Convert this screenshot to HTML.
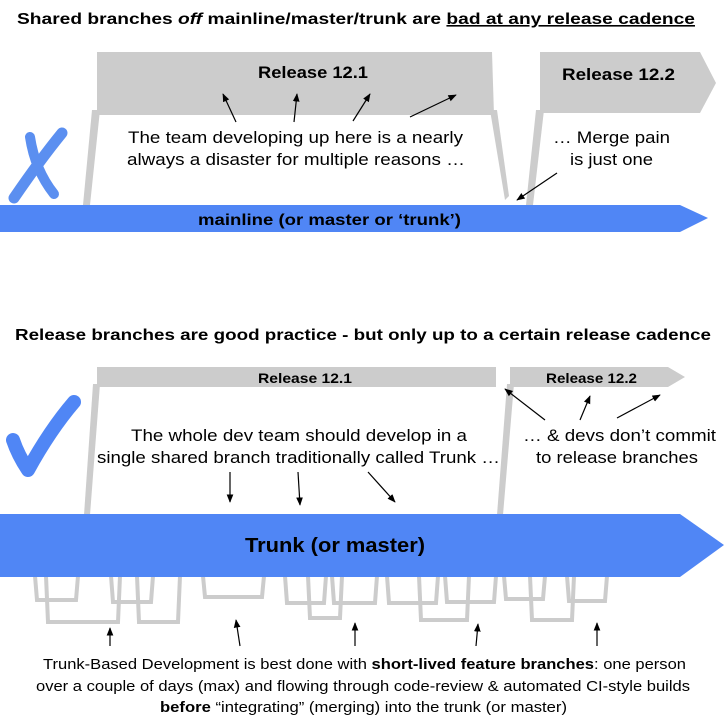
<!DOCTYPE html>
<html><head><meta charset="utf-8"><style>
html,body{margin:0;padding:0;background:#fff}
svg{display:block}
text{font-family:"Liberation Sans",sans-serif;fill:#000}
.b{font-weight:bold}
</style></head><body>
<svg width="726" height="722" viewBox="0 0 726 722" xmlns="http://www.w3.org/2000/svg">
<defs><marker id="a" viewBox="0 0 10 10" refX="9" refY="5" markerWidth="7" markerHeight="7" orient="auto"><path d="M0,1 L10,5 L0,9 z" fill="#000"/></marker></defs>

<text x="17" y="24" class="b" font-size="16" textLength="678" lengthAdjust="spacingAndGlyphs">Shared branches <tspan font-style="italic">off</tspan> mainline/master/trunk are <tspan text-decoration="underline">bad at any release cadence</tspan></text>

<polygon points="97,52 492,52 494,115 97,115" fill="#cccccc"/>
<polygon points="92,110 100,110 90,205 83,205" fill="#cccccc"/>
<polygon points="490,110 497,110 509,196 505,200" fill="#cccccc"/>
<polygon points="540,52 700,52 716,83 700,113 540,113" fill="#cccccc"/>
<polygon points="536,110 544,110 533,205 526,205" fill="#cccccc"/>
<text x="258" y="78" class="b" font-size="17" textLength="110" lengthAdjust="spacingAndGlyphs">Release 12.1</text>
<text x="562" y="80" class="b" font-size="17" textLength="113" lengthAdjust="spacingAndGlyphs">Release 12.2</text>

<!-- X -->
<path d="M62,133 Q40,160 14,198" stroke="#5b8ff0" stroke-width="11" fill="none" stroke-linecap="round"/>
<path d="M30,137 Q35,170 54,194" stroke="#5b8ff0" stroke-width="10" fill="none" stroke-linecap="round"/>

<polygon points="0,205 680,205 708,218 680,232 0,232" fill="#5086f5"/>
<text x="198" y="225" class="b" font-size="16" textLength="263" lengthAdjust="spacingAndGlyphs">mainline (or master or ‘trunk’)</text>

<text x="128" y="143" font-size="17" textLength="335" lengthAdjust="spacingAndGlyphs">The team developing up here is a nearly</text>
<text x="127" y="165" font-size="17" textLength="338" lengthAdjust="spacingAndGlyphs">always a disaster for multiple reasons …</text>
<text x="553" y="143" font-size="17" textLength="117" lengthAdjust="spacingAndGlyphs">… Merge pain</text>
<text x="570" y="165" font-size="17" textLength="83" lengthAdjust="spacingAndGlyphs">is just one</text>
<g stroke="#000" stroke-width="1.2" marker-end="url(#a)">
<line x1="236" y1="122" x2="223" y2="94"/>
<line x1="294" y1="122" x2="297" y2="94"/>
<line x1="353" y1="121" x2="370" y2="94"/>
<line x1="410" y1="117" x2="456" y2="95"/>
<line x1="557" y1="173" x2="517" y2="200"/>
</g>

<text x="15" y="340" class="b" font-size="16" textLength="696" lengthAdjust="spacingAndGlyphs">Release branches are good practice - but only up to a certain release cadence</text>

<polygon points="97,367 496,367 496,387 97,387" fill="#cccccc"/>
<polygon points="93,384 100,384 90,515 84,515" fill="#cccccc"/>
<polygon points="510,367 668,367 685,377 668,387 510,387" fill="#cccccc"/>
<polygon points="507,384 514,384 503,515 497,515" fill="#cccccc"/>
<text x="258" y="383" class="b" font-size="14" textLength="94" lengthAdjust="spacingAndGlyphs">Release 12.1</text>
<text x="546" y="383" class="b" font-size="14" textLength="91" lengthAdjust="spacingAndGlyphs">Release 12.2</text>

<path d="M13,440 Q18,455 28,470 Q50,430 74,402" stroke="#5086f5" stroke-width="14" fill="none" stroke-linecap="round" stroke-linejoin="round"/>

<text x="131" y="441" font-size="17" textLength="336" lengthAdjust="spacingAndGlyphs">The whole dev team should develop in a</text>
<text x="97" y="463" font-size="17" textLength="403" lengthAdjust="spacingAndGlyphs">single shared branch traditionally called Trunk …</text>
<text x="523" y="441" font-size="17" textLength="193" lengthAdjust="spacingAndGlyphs">… &amp; devs don’t commit</text>
<text x="536" y="463" font-size="17" textLength="162" lengthAdjust="spacingAndGlyphs">to release branches</text>
<g stroke="#000" stroke-width="1.2" marker-end="url(#a)">
<line x1="230" y1="472" x2="230" y2="502"/>
<line x1="298" y1="472" x2="300" y2="505"/>
<line x1="368" y1="472" x2="395" y2="502"/>
<line x1="545" y1="420" x2="505" y2="389"/>
<line x1="580" y1="420" x2="590" y2="396"/>
<line x1="617" y1="418" x2="660" y2="395"/>
<line x1="110" y1="646" x2="110" y2="628"/>
<line x1="240" y1="646" x2="236" y2="620"/>
<line x1="355" y1="646" x2="355" y2="623"/>
<line x1="476" y1="646" x2="478" y2="624"/>
<line x1="597" y1="646" x2="597" y2="623"/>
</g>

<g stroke="#cccccc" stroke-width="4" fill="none">
<path d="M35,576 L37,600 L76,600 L78,576"/>
<path d="M46,576 L48,622 L118,622 L120,576"/>
<path d="M111,576 L113,602 L151,602 L153,576"/>
<path d="M137,576 L139,622 L178,622 L180,576"/>
<path d="M203,576 L205,597 L262,597 L264,576"/>
<path d="M285,576 L287,603 L324,603 L326,576"/>
<path d="M308,576 L310,618 L340,618 L342,576"/>
<path d="M332,576 L334,603 L375,603 L377,576"/>
<path d="M387,576 L389,603 L436,603 L438,576"/>
<path d="M419,576 L421,620 L467,620 L469,576"/>
<path d="M445,576 L447,602 L494,602 L496,576"/>
<path d="M504,576 L506,599 L543,599 L545,576"/>
<path d="M530,576 L532,620 L572,620 L574,576"/>
<path d="M567,576 L569,601 L605,601 L607,576"/>
</g>

<polygon points="0,514 680,514 724,545 680,577 0,577" fill="#5086f5"/>
<text x="245" y="552" class="b" font-size="20" textLength="180" lengthAdjust="spacingAndGlyphs">Trunk (or master)</text>

<text x="43" y="669" font-size="15" textLength="643" lengthAdjust="spacingAndGlyphs">Trunk-Based Development is best done with <tspan class="b">short-lived feature branches</tspan>: one person</text>
<text x="36" y="691" font-size="15" textLength="654" lengthAdjust="spacingAndGlyphs">over a couple of days (max) and flowing through code-review &amp; automated CI-style builds</text>
<text x="160" y="712" font-size="15" textLength="407" lengthAdjust="spacingAndGlyphs"><tspan class="b">before</tspan> “integrating” (merging) into the trunk (or master)</text>
</svg>
</body></html>
